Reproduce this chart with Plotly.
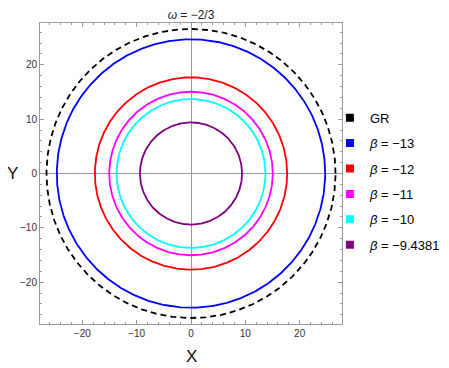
import numpy as np
import plotly.graph_objects as go

# Shadow radii
labels = ["GR", "<i>β</i> = −13", "<i>β</i> = −12", "<i>β</i> = −11", "<i>β</i> = −10", "<i>β</i> = −9.4381"]
radii = [26.6, 24.7, 17.7, 15.05, 13.7, 9.4]
colors = ["#000000", "#0000FF", "#FF0000", "#FF00FF", "#00FFFF", "#800080"]
dashes = ["6px,4px", "solid", "solid", "solid", "solid", "solid"]

x_ticks = [-20, -10, 0, 10, 20]
y_ticks = [-20, -10, 0, 10, 20]
axis_range = [-27.7, 27.7]

theta = np.linspace(0, 2 * np.pi, 721)

fig = go.Figure()
for lab, r, c, d in zip(labels, radii, colors, dashes):
    fig.add_trace(go.Scatter(x=r * np.cos(theta), y=r * np.sin(theta), mode="lines",
                             line=dict(color=c, width=1.8, dash=d), showlegend=False,
                             hoverinfo="skip"))
for i, (lab, c) in enumerate(zip(labels, colors)):
    fig.add_trace(go.Scatter(x=[None], y=[None], mode="markers", name=lab, legendgroup=f"g{i}",
                             marker=dict(symbol="square", size=8, color=c)))

font = "Liberation Sans, Arial, sans-serif"
axcommon = dict(range=axis_range, showgrid=False, zeroline=True, zerolinecolor="#9a9a9a",
                zerolinewidth=1, showline=True, linecolor="#9a9a9a", linewidth=1,
                mirror="ticks", ticks="inside", ticklen=4, tickcolor="#9a9a9a",
                minor=dict(dtick=2, ticks="inside", ticklen=2, tickcolor="#9a9a9a"),
                tickfont=dict(size=10, color="#333", family=font))

# page body has an 8px margin, so the figure is 8px smaller and shifted
fig.update_layout(
    width=441, height=360,
    margin=dict(l=32, r=107, t=15, b=44, autoexpand=False),
    paper_bgcolor="white", plot_bgcolor="white",
    xaxis=dict(tickvals=x_ticks, **axcommon),
    yaxis=dict(tickvals=y_ticks, scaleanchor="x", scaleratio=1, **axcommon),
    showlegend=True,
    legend=dict(x=0.960, xanchor="left", y=0.735, yanchor="top",
                font=dict(size=13, family=font, color="#000"),
                itemwidth=30, bgcolor="rgba(0,0,0,0)", traceorder="grouped", tracegroupgap=5.5),
    title=dict(text="<i>ω</i> = −2/3", x=183 / 441, xanchor="center", y=1 - 7 / 360, yanchor="middle",
               pad=dict(t=0, b=0), font=dict(size=12, family=font, color="#222")),
    annotations=[
        dict(text="X", xref="paper", yref="paper", x=0.5, y=-32 / 301, yanchor="middle", showarrow=False,
             font=dict(size=17, family=font, color="#111")),
        dict(text="Y", xref="paper", yref="paper", x=-28 / 302, xanchor="center", y=0.5, showarrow=False,
             font=dict(size=17, family=font, color="#111")),
    ],
)

fig.write_html("out.html")
